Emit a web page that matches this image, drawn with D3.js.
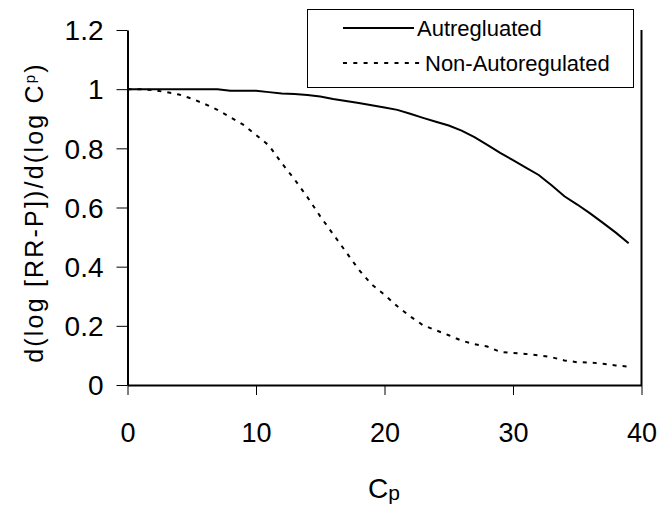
<!DOCTYPE html>
<html>
<head>
<meta charset="utf-8">
<script src="https://cdn.jsdelivr.net/npm/d3@7"></script>
<style>
  body { margin: 0; background: #fff; }
  svg { display: block; font-family: "Liberation Sans", Arial, sans-serif; }
</style>
</head>
<body>
<svg id="chart" width="662" height="510"></svg>
<script>
const cp = [0, 1, 2, 3, 4, 5, 6, 7, 8, 9, 10, 11, 12, 13, 14, 15, 16, 17, 18, 19,
  20, 21, 22, 23, 24, 25, 26, 27, 28, 29, 30, 31, 32, 33, 34, 35, 36, 37, 38, 39];

const autoregulated = [1.0, 1.0, 1.0, 1.0, 1.0, 1.0, 1.0, 1.0, 0.995, 0.995,
  0.995, 0.99, 0.985, 0.984, 0.98, 0.975, 0.967, 0.96, 0.953, 0.946,
  0.938, 0.93, 0.917, 0.903, 0.89, 0.877, 0.86, 0.838, 0.812, 0.785,
  0.76, 0.735, 0.71, 0.675, 0.638, 0.61, 0.58, 0.548, 0.515, 0.479];

const nonAutoregulated = [1.0, 1.0, 0.997, 0.99, 0.982, 0.968, 0.95, 0.93, 0.905, 0.88,
  0.845, 0.81, 0.75, 0.695, 0.635, 0.57, 0.51, 0.45, 0.39, 0.34,
  0.305, 0.266, 0.232, 0.202, 0.185, 0.168, 0.15, 0.138, 0.13, 0.112,
  0.108, 0.105, 0.1, 0.094, 0.083, 0.077, 0.076, 0.072, 0.066, 0.062];

const xTicks = [0, 10, 20, 30, 40];
const yTicks = [0, 0.2, 0.4, 0.6, 0.8, 1, 1.2];
const yTickLabels = ["0", "0.2", "0.4", "0.6", "0.8", "1", "1.2"];

const seriesNames = ["Autregluated", "Non-Autoregulated"];

const svg = d3.select("#chart");
const plot = { left: 127.5, right: 641.5, top: 30, bottom: 385 };

const x = d3.scaleLinear().domain([0, 40]).range([plot.left, plot.right]);
const y = d3.scaleLinear().domain([0, 1.2]).range([plot.bottom, plot.top]);

// axes
const yAxis = svg.append("g")
  .attr("transform", `translate(${plot.left},0)`)
  .call(d3.axisLeft(y).tickValues(yTicks).tickSize(11).tickSizeOuter(0)
    .tickFormat((d, i) => yTickLabels[i]));
yAxis.select(".domain").attr("stroke-width", 2);
yAxis.selectAll(".tick line").attr("stroke-width", 1);
yAxis.selectAll(".tick text")
  .attr("x", -24)
  .attr("dy", "0.35em")
  .style("font-size", "28px")
  .style("font-family", "'Liberation Sans', Arial, sans-serif")
  .attr("fill", "#000");

const xAxis = svg.append("g")
  .attr("transform", `translate(0,${plot.bottom})`)
  .call(d3.axisBottom(x).tickValues(xTicks).tickSize(10).tickSizeOuter(0));
xAxis.select(".domain").attr("stroke-width", 2);
xAxis.selectAll(".tick line").attr("stroke-width", 1);
xAxis.selectAll(".tick text")
  .attr("y", 57)
  .attr("dy", 0)
  .style("font-size", "27px")
  .style("font-family", "'Liberation Sans', Arial, sans-serif")
  .attr("fill", "#000");

// right border
svg.append("line")
  .attr("x1", x(40)).attr("x2", x(40))
  .attr("y1", y(1.2)).attr("y2", y(0))
  .attr("stroke", "#000").attr("stroke-width", 2);

// lines
const line = d3.line()
  .x((d, i) => x(cp[i]))
  .y(d => y(d));

svg.append("path")
  .datum(autoregulated)
  .attr("d", line)
  .attr("fill", "none")
  .attr("stroke", "#000")
  .attr("stroke-width", 2);

svg.append("path")
  .datum(nonAutoregulated)
  .attr("d", line)
  .attr("fill", "none")
  .attr("stroke", "#000")
  .attr("stroke-width", 2)
  .attr("stroke-dasharray", "4,6");

// axis titles
const xt = svg.append("text")
  .attr("x", 384).attr("y", 498)
  .attr("text-anchor", "middle")
  .style("font-size", "28px");
xt.append("tspan").text("C");
xt.append("tspan").style("font-size", "21px").attr("dy", 2).text("p");

const yt = svg.append("text")
  .attr("transform", "translate(43,212.5) rotate(-90)")
  .attr("text-anchor", "middle")
  .style("font-size", "25px")
  .style("letter-spacing", "2.2px");
yt.append("tspan").text("d(log [RR-P])/d(log C");
yt.append("tspan").style("font-size", "15px").attr("dy", -8).text("p");
yt.append("tspan").attr("dy", 8).text(")");

// legend
const lg = svg.append("g");
lg.append("rect")
  .attr("x", 307.5).attr("y", 9.5)
  .attr("width", 326).attr("height", 78)
  .attr("fill", "#fff")
  .attr("stroke", "#000").attr("stroke-width", 1);

seriesNames.forEach((name, i) => {
  const ly = 28 + i * 35;
  lg.append("line")
    .attr("x1", 343).attr("x2", i === 1 ? 421 : 414)
    .attr("y1", ly).attr("y2", ly)
    .attr("stroke", "#000").attr("stroke-width", 2)
    .attr("stroke-dasharray", i === 1 ? "4,6.3" : null);
  lg.append("text")
    .attr("x", i === 0 ? 417 : 425).attr("y", ly)
    .attr("dy", "0.35em")
    .style("font-size", "22px")
    .text(name);
});
</script>
</body>
</html>
